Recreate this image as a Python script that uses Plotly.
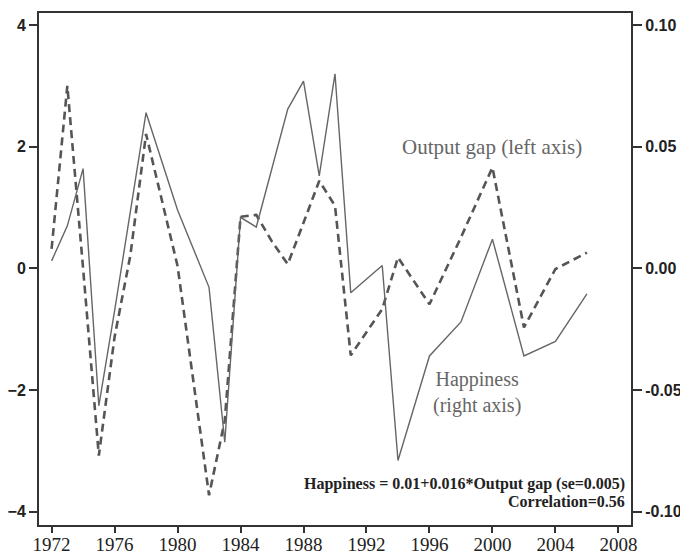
import plotly.graph_objects as go

years = [1972, 1973, 1974, 1975, 1976, 1977, 1978, 1980, 1982, 1983, 1984, 1985, 1986,
         1987, 1988, 1989, 1990, 1991, 1993, 1994, 1996, 1998, 2000, 2002, 2004, 2006]
output_gap = [0.32, 3.0, 0.0, -3.08, -1.13, 0.21, 2.21, 0.04, -3.73, -2.5, 0.85, 0.88, 0.44,
              0.07, 0.75, 1.44, 1.03, -1.43, -0.67, 0.18, -0.59, 0.51, 1.66, -0.97, -0.01, 0.26]
happiness = [0.0031, 0.0175, 0.041, -0.0565, -0.0175, 0.023, 0.064, 0.024, -0.0078, -0.0715,
             0.021, 0.017, 0.041, 0.0655, 0.077, 0.038, 0.080, -0.010, 0.0012, -0.079,
             -0.036, -0.022, 0.012, -0.036, -0.030, -0.0105]

x_ticks = [1972, 1976, 1980, 1984, 1988, 1992, 1996, 2000, 2004, 2008]
left_ticks = [-4, -2, 0, 2, 4]
right_ticks = [-0.10, -0.05, 0.00, 0.05, 0.10]
right_labels = ["-0.10", "-0.05", "0.00", "0.05", "0.10"]

fig = go.Figure()
fig.add_trace(go.Scatter(x=years, y=output_gap, mode="lines", name="Output gap",
                         line=dict(color="#555555", width=2.6, dash="8px,5px"),
                         yaxis="y"))
fig.add_trace(go.Scatter(x=years, y=happiness, mode="lines", name="Happiness",
                         line=dict(color="#666666", width=1.4),
                         yaxis="y2"))

axis_line = "#333333"
# the page body adds an 8px offset, so the figure is sized to fit inside the window
fig.update_layout(
    width=680, height=548,
    margin=dict(l=31, r=57, t=5, b=31),
    paper_bgcolor="white", plot_bgcolor="white",
    showlegend=False,
    xaxis=dict(range=[1971.2, 2008.8], tickvals=x_ticks, ticks="outside", ticklen=6,
               tickwidth=1.5, tickcolor=axis_line, showline=True, linecolor=axis_line,
               linewidth=2, mirror=True, showgrid=False, zeroline=False, automargin=False,
               ticklabelstandoff=-5,
               tickfont=dict(family="Liberation Serif", size=19, color="#222222")),
    yaxis=dict(range=[-4.22, 4.20], tickvals=left_ticks, ticks="outside", ticklen=8,
               tickwidth=1.5, tickcolor=axis_line, showline=True, linecolor=axis_line,
               linewidth=2, showgrid=False, zeroline=False, automargin=False,
               tickfont=dict(family="Liberation Sans", size=16, color="#222222", weight="bold")),
    yaxis2=dict(range=[-0.1055, 0.105], tickvals=right_ticks, ticktext=right_labels,
                overlaying="y", side="right", ticks="outside", ticklen=9, tickwidth=1.5,
                tickcolor=axis_line, showline=True, linecolor=axis_line, linewidth=2,
                showgrid=False, zeroline=False, automargin=False,
                tickfont=dict(family="Liberation Sans", size=16, color="#222222", weight="bold")),
)

fig.add_annotation(x=2000.0, y=2.0, xref="x", yref="y", text="Output gap (left axis)",
                   showarrow=False, font=dict(family="Liberation Serif", size=21, color="#666666"))
fig.add_annotation(x=1999.0, y=-0.051, xref="x", yref="y2", text="Happiness<br>(right axis)",
                   showarrow=False,
                   font=dict(family="Liberation Serif", size=20, color="#666666"))
fig.add_annotation(x=1, y=0.059, xref="paper", yref="paper", xanchor="right", xshift=-4,
                   text="Happiness = 0.01+0.016*Output gap (se=0.005)",
                   showarrow=False,
                   font=dict(family="Liberation Serif", size=16, color="#222222", weight="bold"))
fig.add_annotation(x=1, y=0.026, xref="paper", yref="paper", xanchor="right", xshift=-4,
                   text="Correlation=0.56", showarrow=False,
                   font=dict(family="Liberation Serif", size=16, color="#222222", weight="bold"))

fig.write_html("out.html")
